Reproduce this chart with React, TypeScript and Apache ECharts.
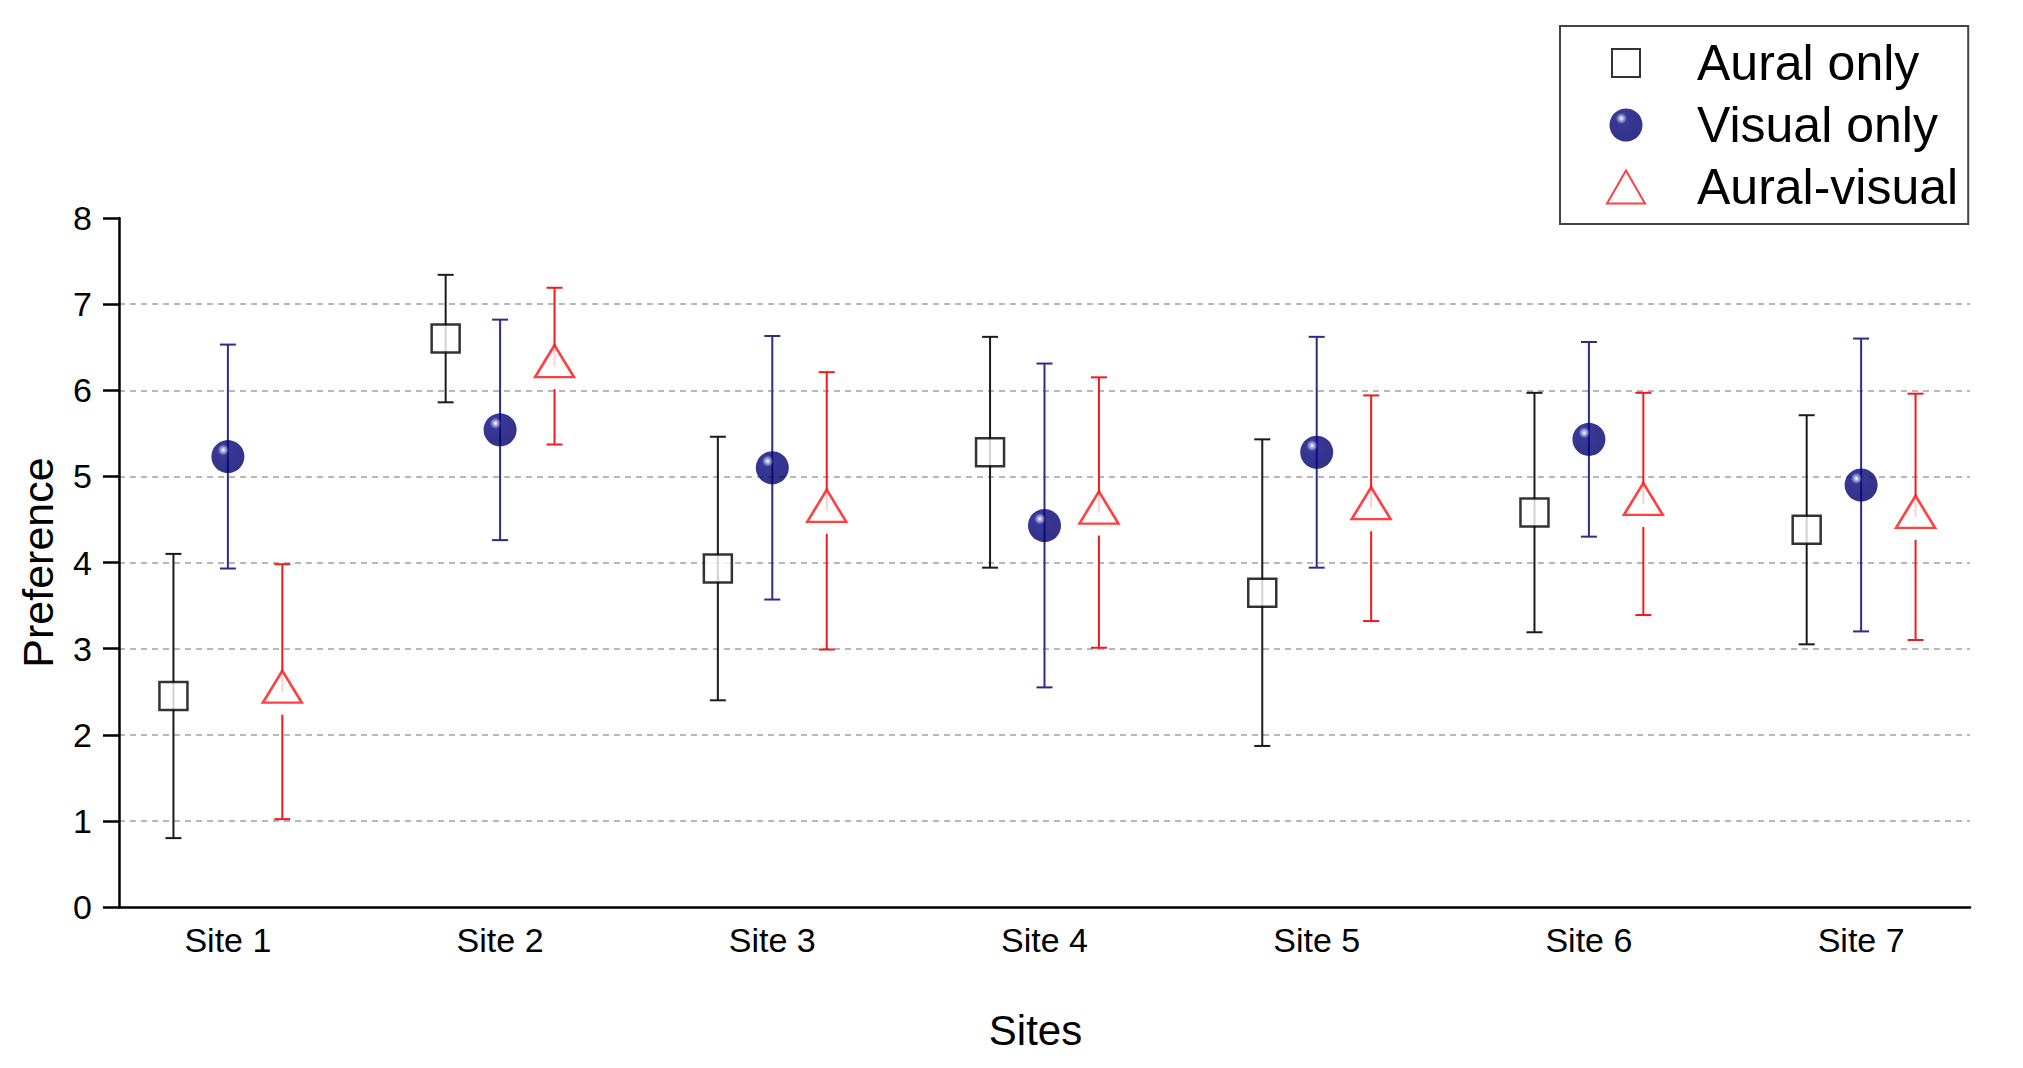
import React, { useEffect, useRef } from "react";
import * as echarts from "echarts";

const sites = [1, 2, 3, 4, 5, 6, 7];
const siteLabels = ["Site 1", "Site 2", "Site 3", "Site 4", "Site 5", "Site 6", "Site 7"];
const yTicks = [0, 1, 2, 3, 4, 5, 6, 7, 8];

const auralMean = [2.45, 6.6, 3.93, 5.28, 3.65, 4.58, 4.38];
const auralSd = [1.65, 0.74, 1.53, 1.34, 1.78, 1.39, 1.33];
const visualMean = [5.23, 5.54, 5.1, 4.43, 5.28, 5.43, 4.9];
const visualSd = [1.3, 1.28, 1.53, 1.88, 1.34, 1.13, 1.7];
const avMean = [2.5, 6.28, 4.6, 4.58, 4.63, 4.68, 4.53];
const avSd = [1.48, 0.91, 1.61, 1.57, 1.31, 1.29, 1.43];

const groupNames = ["Aural only", "Visual only", "Aural-visual"];
const groupOffsets = [-0.2, 0, 0.2];

const FONT = "Liberation Sans, Arial, sans-serif";

function App() {
  const ref = useRef<HTMLDivElement>(null);
  useEffect(() => {
    if (!ref.current) return;
    const chart = echarts.init(ref.current, null, { renderer: "svg" });

    const means = [auralMean, visualMean, avMean];
    const sds = [auralSd, visualSd, avSd];
    const errColors = ["#1a1a1a", "#2c2c8e", "#ee1c1c"];

    const sphere = new echarts.graphic.RadialGradient(0.36, 0.3, 0.72, [
      { offset: 0, color: "#ffffff" },
      { offset: 0.08, color: "#a8a8dc" },
      { offset: 0.24, color: "#06067e" },
      { offset: 1, color: "#000068" },
    ]);

    const markerStyles: any[] = [
      { symbol: "rect", symbolSize: 28, itemStyle: { color: "#ffffff", borderColor: "#000000", borderWidth: 2.5 } },
      { symbol: "circle", symbolSize: 33, itemStyle: { color: sphere, borderWidth: 0 } },
      {
        symbol: "triangle",
        symbolSize: [39, 32],
        symbolOffset: [0, -5],
        itemStyle: { color: "#ffffff", borderColor: "#ff1010", borderWidth: 2.5 },
      },
    ];

    const legendIcons = ["path://M0 0M38 33M5 2.5H33V30.5H5Z", "circle", "triangle"];

    const series: any[] = [];
    groupNames.forEach((name, g) => {
      const errData = sites.map((s, i) => [
        s + groupOffsets[g],
        means[g][i] - sds[g][i],
        means[g][i] + sds[g][i],
        means[g][i],
      ]);
      const gap = g === 2 ? 23 : 0;
      const color = errColors[g];
      series.push({
        type: "custom",
        name: name + " error",
        z: 2,
        data: errData,
        encode: { x: 0, y: [1, 2] },
        renderItem: (params: any, api: any) => {
          const x = api.value(0);
          const lo = api.coord([x, api.value(1)]);
          const hi = api.coord([x, api.value(2)]);
          const mid = api.coord([x, api.value(3)]);
          const cap = 8;
          const st = { stroke: color, lineWidth: 2 };
          const children: any[] = [];
          if (gap > 0) {
            children.push({ type: "line", shape: { x1: hi[0], y1: hi[1], x2: mid[0], y2: mid[1] }, style: st });
            children.push({ type: "line", shape: { x1: mid[0], y1: mid[1] + gap, x2: lo[0], y2: lo[1] }, style: st });
          } else {
            children.push({ type: "line", shape: { x1: hi[0], y1: hi[1], x2: lo[0], y2: lo[1] }, style: st });
          }
          children.push({ type: "line", shape: { x1: hi[0] - cap, y1: hi[1], x2: hi[0] + cap, y2: hi[1] }, style: st });
          children.push({ type: "line", shape: { x1: lo[0] - cap, y1: lo[1], x2: lo[0] + cap, y2: lo[1] }, style: st });
          return { type: "group", children };
        },
      });
      series.push({
        type: "scatter",
        name,
        z: 5,
        data: sites.map((s, i) => [s + groupOffsets[g], means[g][i]]),
        ...markerStyles[g],
      });
    });

    chart.setOption({
      animation: false,
      backgroundColor: "#ffffff",
      textStyle: { fontFamily: FONT },
      grid: { left: 119, right: 53, top: 218, bottom: 161, containLabel: false },
      legend: {
        data: groupNames.map((n, g) => ({ name: n, icon: legendIcons[g] })),
        orient: "vertical",
        left: 1560,
        top: 26,
        padding: [12, 10, 12, 46],
        itemWidth: 38,
        itemHeight: 33,
        itemGap: 12,
        borderColor: "#444444",
        borderWidth: 2,
        textStyle: {
          fontFamily: FONT,
          fontSize: 50,
          lineHeight: 50,
          color: "#000000",
          padding: [0, 0, 0, 47],
        },
      },
      xAxis: {
        type: "value",
        min: 0.6,
        max: 7.4,
        name: "Sites",
        nameLocation: "middle",
        nameGap: 102,
        nameTextStyle: { fontFamily: FONT, fontSize: 42, color: "#000000", padding: [0, 18, 0, 0] },
        axisLine: { show: true, onZero: false, lineStyle: { color: "#000000", width: 2.5 } },
        axisTick: { show: false },
        splitLine: { show: false },
        axisLabel: {
          customValues: sites,
          formatter: (v: number) => siteLabels[Math.round(v) - 1] ?? "",
          fontFamily: FONT,
          fontSize: 34,
          color: "#000000",
          margin: 16,
        },
      },
      yAxis: {
        type: "value",
        min: yTicks[0],
        max: yTicks[yTicks.length - 1],
        interval: 1,
        name: "Preference",
        nameLocation: "middle",
        nameGap: 60,
        nameTextStyle: { fontFamily: FONT, fontSize: 43, color: "#000000" },
        axisLine: { show: true, lineStyle: { color: "#000000", width: 2.5 } },
        axisTick: { show: true, length: 16, lineStyle: { color: "#000000", width: 2.5 } },
        axisLabel: { fontFamily: FONT, fontSize: 34, color: "#000000", margin: 27 },
        splitLine: {
          show: true,
          showMinLine: false,
          showMaxLine: false,
          lineStyle: { color: "#a0a0a0", width: 1.5, type: [6, 5] },
        },
      },
      series,
    });
    return () => chart.dispose();
  }, []);
  return (
    <div
      ref={ref}
      style={{ position: "fixed", left: 0, top: 0, width: 2023, height: 1068, background: "#fff" }}
    />
  );
}

export default App;
